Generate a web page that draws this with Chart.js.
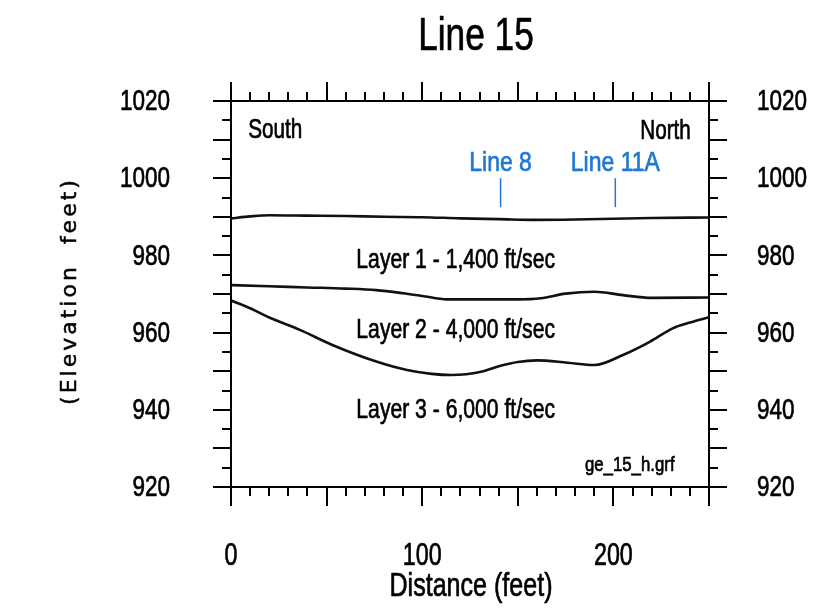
<!DOCTYPE html>
<html>
<head>
<meta charset="utf-8">
<script src="https://cdn.jsdelivr.net/npm/chart.js@4.4.0/dist/chart.umd.min.js"></script>
<style>
  html, body { margin: 0; padding: 0; background: #ffffff; }
  #wrap { width: 830px; height: 613px; }
</style>
</head>
<body>
<div id="wrap"><canvas id="section" width="830" height="613"></canvas></div>
<script>
// Seismic refraction cross-section, Line 15 (distance in feet, elevation in feet)

// Ground surface
const surfaceDist = [0, 10, 20, 40, 60, 80, 100, 120, 140, 160, 180, 200, 220, 250];
const surfaceElev = [989.6, 990.1, 990.4, 990.3, 990.2, 990.0, 989.9, 989.6, 989.4, 989.2, 989.3, 989.5, 989.7, 989.8];

// Base of layer 1 (top of layer 2)
const layer1BaseDist = [0, 20, 40, 60, 76, 90, 100, 113, 130, 150, 162, 175, 190, 205, 220, 250];
const layer1BaseElev = [972.3, 972.0, 971.7, 971.4, 971.0, 970.2, 969.5, 968.6, 968.6, 968.6, 968.9, 970.1, 970.6, 969.7, 969.0, 969.1];

// Base of layer 2 (top of layer 3)
const layer2BaseDist = [0, 10, 20, 36, 53, 76, 92, 105, 115, 123, 132, 141, 150, 160, 176, 190, 205, 219, 231, 240, 250];
const layer2BaseElev = [968.3, 966.3, 963.9, 960.7, 956.8, 952.5, 950.3, 949.3, 949.0, 949.2, 950.0, 951.4, 952.4, 952.8, 952.2, 951.6, 954.2, 957.6, 961.1, 962.6, 964.0];

// Layer velocities
const layerNames = ['Layer 1 - 1,400 ft/sec', 'Layer 2 - 4,000 ft/sec', 'Layer 3 - 6,000 ft/sec'];

// Intersecting survey lines and where they cross this one
const crossLineNames = ['Line 8', 'Line 11A'];
const crossLineDist = [141, 201];

// Axis ranges and tick spacing
const distRange = [0, 250];
const elevRange = [920, 1020];
const distLabelStep = 100, distMajor = 50, distMinor = 10;
const elevLabelStep = 20, elevMajor = 10, elevMinor = 5;

const SANS = '"Liberation Sans", Arial, sans-serif';
const INK = '#000000';
const BLUE = '#1f78d1';

function toPoints(xs, ys) { return xs.map((x, i) => ({ x: x, y: ys[i] })); }

function lineSet(label, xs, ys) {
  return {
    label: label,
    data: toPoints(xs, ys),
    borderColor: '#111111',
    borderWidth: 2.6,
    pointRadius: 0,
    fill: false,
    tension: 0.35,
    cubicInterpolationMode: 'monotone'
  };
}

// Text in a horizontally condensed, slightly heavy sans face
function narrowText(ctx, text, x, y, size, squeeze, align, baseline, color) {
  ctx.save();
  ctx.font = size + 'px ' + SANS;
  ctx.fillStyle = color || INK;
  ctx.strokeStyle = color || INK;
  ctx.lineWidth = 0.7;
  ctx.lineJoin = 'round';
  ctx.textAlign = align;
  ctx.textBaseline = baseline;
  ctx.translate(x, y);
  ctx.scale(squeeze, 1);
  ctx.fillText(text, 0, 0);
  ctx.strokeText(text, 0, 0);
  ctx.restore();
}

// Frame, tick marks, tick labels, titles and in-plot annotations
const sectionDecor = {
  id: 'sectionDecor',
  afterDatasetsDraw(chart) {
    const { ctx, chartArea: a, scales } = chart;
    const x = scales.x, y = scales.y, y2 = scales.y2;
    ctx.save();
    ctx.strokeStyle = INK;
    ctx.lineWidth = 2;
    ctx.lineCap = 'butt';
    ctx.beginPath();
    ctx.moveTo(a.left - 1, a.top);
    ctx.lineTo(a.right + 1, a.top);
    for (let v = distRange[0]; v <= distRange[1] + 1e-6; v += distMinor) {
      const px = Math.round(x.getPixelForValue(v));
      const len = (v % distMajor === 0) ? 19 : 9;
      ctx.moveTo(px, a.bottom); ctx.lineTo(px, a.bottom + len);
      ctx.moveTo(px, a.top); ctx.lineTo(px, a.top - len);
    }
    for (let v = elevRange[0]; v <= elevRange[1] + 1e-6; v += elevMinor) {
      const py = Math.round(y.getPixelForValue(v));
      const len = (v % elevMajor === 0) ? 18 : 9;
      ctx.moveTo(a.left, py); ctx.lineTo(a.left - len, py);
      ctx.moveTo(a.right, py); ctx.lineTo(a.right + len, py);
    }
    ctx.stroke();
    ctx.restore();

    // Tick labels from the scales' own ticks
    x.ticks.forEach(t => {
      if (t.value % distLabelStep !== 0) return;
      narrowText(ctx, String(t.value), x.getPixelForValue(t.value), a.bottom + 78, 31, 0.75, 'center', 'alphabetic');
    });
    y.ticks.forEach(t => {
      narrowText(ctx, String(t.value), a.left - 61, y.getPixelForValue(t.value) + 1, 30, 0.75, 'right', 'middle');
    });
    y2.ticks.forEach(t => {
      narrowText(ctx, String(t.value), a.right + 48, y2.getPixelForValue(t.value) + 1, 30, 0.75, 'left', 'middle');
    });

    // Chart title and horizontal axis title
    const midX = (a.left + a.right) / 2;
    narrowText(ctx, 'Line 15', midX + 6, a.top - 51, 47, 0.75, 'center', 'alphabetic');
    narrowText(ctx, 'Distance (feet)', midX + 1, a.bottom + 109, 33, 0.76, 'center', 'alphabetic');

    // Direction labels
    narrowText(ctx, 'South', x.getPixelForValue(9), y.getPixelForValue(1010.4), 28, 0.74, 'left', 'alphabetic');
    narrowText(ctx, 'North', x.getPixelForValue(240.5), y.getPixelForValue(1010.2), 28, 0.74, 'right', 'alphabetic');

    // Layer labels
    const layerLabelElev = [978.8, 960.7, 940.0];
    layerNames.forEach((t, i) => {
      narrowText(ctx, t, x.getPixelForValue(117.5), y.getPixelForValue(layerLabelElev[i]), 28, 0.755, 'center', 'middle');
    });

    // File tag
    narrowText(ctx, 'ge_15_h.grf', x.getPixelForValue(232), y.getPixelForValue(925.7), 21, 0.8, 'right', 'middle');

    // Crossing survey lines
    ctx.save();
    ctx.strokeStyle = BLUE;
    ctx.lineWidth = 1.5;
    crossLineNames.forEach((t, i) => {
      const px = x.getPixelForValue(crossLineDist[i]);
      ctx.beginPath();
      ctx.moveTo(px, y.getPixelForValue(1000));
      ctx.lineTo(px, y.getPixelForValue(992.5));
      ctx.stroke();
      narrowText(ctx, t, px, y.getPixelForValue(1001.9), 28, 0.82, 'center', 'alphabetic', BLUE);
    });
    ctx.restore();
  },
  afterDraw(chart) {
    // Vertical axis title, letter-spaced
    const { ctx, chartArea: a } = chart;
    ctx.save();
    ctx.translate(70, (a.top + a.bottom) / 2 - 3);
    ctx.rotate(-Math.PI / 2);
    ctx.fillStyle = INK;
    ctx.strokeStyle = INK;
    ctx.lineWidth = 0.5;
    ctx.font = '22px "DejaVu Sans", sans-serif';
    if ('letterSpacing' in ctx) ctx.letterSpacing = '3px';
    ctx.textAlign = 'center';
    ctx.textBaseline = 'middle';
    ctx.fillText('(Elevation  feet)', 0, 0);
    ctx.strokeText('(Elevation  feet)', 0, 0);
    ctx.restore();
  }
};

new Chart(document.getElementById('section'), {
  type: 'line',
  data: {
    datasets: [
      lineSet('Ground surface', surfaceDist, surfaceElev),
      lineSet('Base of layer 1', layer1BaseDist, layer1BaseElev),
      lineSet('Base of layer 2', layer2BaseDist, layer2BaseElev)
    ]
  },
  options: {
    responsive: false,
    animation: false,
    layout: { padding: { top: 101, left: 0, right: 0, bottom: 0 } },
    plugins: {
      legend: { display: false },
      tooltip: { enabled: false },
      title: { display: false }
    },
    scales: {
      x: {
        type: 'linear',
        position: 'bottom',
        min: distRange[0],
        max: distRange[1],
        grid: { display: false, drawTicks: false },
        border: { display: true, color: INK, width: 2 },
        ticks: { display: false, stepSize: distMajor, autoSkip: false },
        afterFit: s => { s.height = 126; }
      },
      y: {
        type: 'linear',
        position: 'left',
        min: elevRange[0],
        max: elevRange[1],
        grid: { display: false, drawTicks: false },
        border: { display: true, color: INK, width: 2 },
        ticks: { display: false, stepSize: elevLabelStep },
        afterFit: s => { s.width = 231; }
      },
      y2: {
        type: 'linear',
        position: 'right',
        min: elevRange[0],
        max: elevRange[1],
        grid: { display: false, drawTicks: false },
        border: { display: true, color: INK, width: 2 },
        ticks: { display: false, stepSize: elevLabelStep },
        afterFit: s => { s.width = 121; }
      }
    }
  },
  plugins: [sectionDecor]
});
</script>
</body>
</html>
